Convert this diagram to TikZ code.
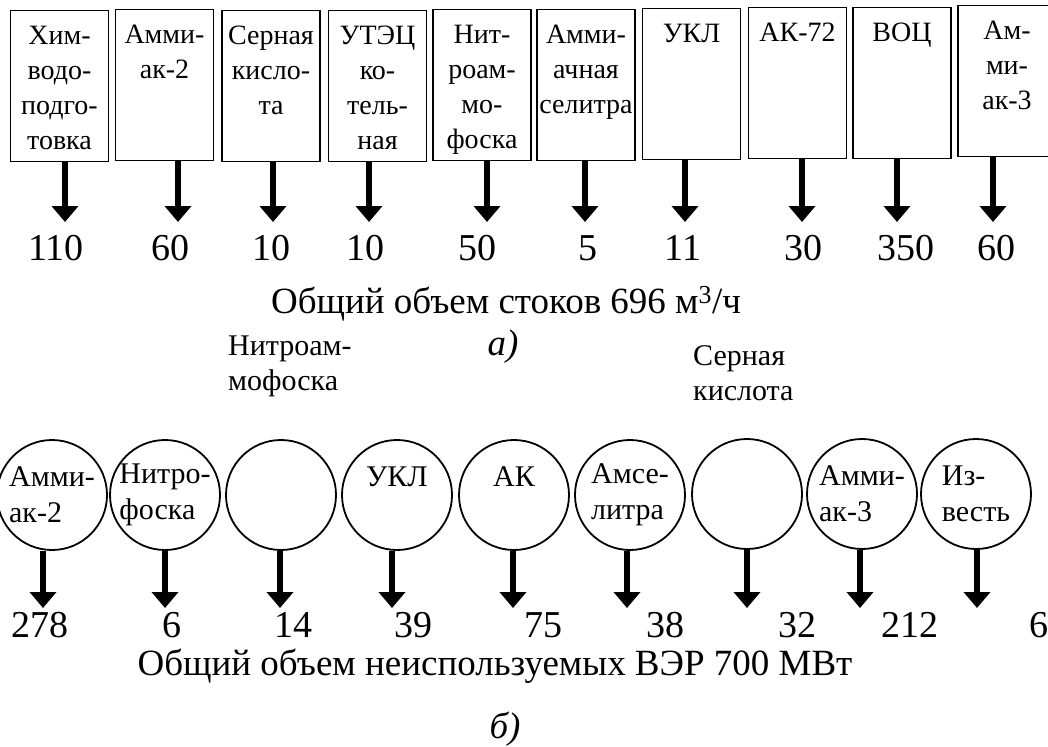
\documentclass[tikz,border=0pt]{standalone}
\usepackage{fontspec}
\setmainfont{Liberation Serif}
\usetikzlibrary{arrows.meta, positioning}

\begin{document}
\begin{tikzpicture}[
    x=1pt, y=-1pt,
    unit/.style={
        rectangle, draw, line width=1.3pt, anchor=north,
        minimum width=98pt, text width=96pt, align=center,
        inner xsep=1pt, inner ysep=0pt, text height=34pt, text depth=117pt,
        font=\fontsize{28}{35}\selectfont
    },
    site/.style={
        circle, draw, line width=1.8pt, minimum size=110pt,
        inner sep=-15pt, align=left, font=\fontsize{30}{36}\selectfont
    },
    note/.style={anchor=base west, align=left, inner sep=0pt,
        font=\fontsize{30}{35}\selectfont},
    num/.style={anchor=base, inner sep=0pt, font=\fontsize{38}{40}\selectfont},
    caption/.style={anchor=base, inner sep=0pt, font=\fontsize{37}{40}\selectfont},
    drop/.style={-{Triangle[width=26pt, length=16pt]}, line width=6pt}
]
    \useasboundingbox (0,0) rectangle (1048,746);

    % a) waste water sources
    \node[unit] (b1)  at (59.5,10)  {Хим-\\водо-\\подго-\\товка};
    \node[unit] (b2)  at (164.5,9)  {Амми-\\ак-2};
    \node[unit] (b3)  at (271,10)   {Серная\\кисло-\\та};
    \node[unit] (b4)  at (377.5,10) {УТЭЦ\\ко-\\тель-\\ная};
    \node[unit] (b5)  at (482,9)    {Нит-\\роам-\\мо-\\фоска};
    \node[unit] (b6)  at (586,9)    {Амми-\\ачная\\селитра};
    \node[unit] (b7)  at (691.5,8)  {УКЛ};
    \node[unit] (b8)  at (797.5,7)  {АК-72};
    \node[unit] (b9)  at (902,7)    {ВОЦ};
    \node[unit] (b10) at (1007,5)   {Ам-\\ми-\\ак-3};

    \node[num] (n1)  at (56,260)  {110};
    \node[num] (n2)  at (170,260) {60};
    \node[num] (n3)  at (271,260) {10};
    \node[num] (n4)  at (365,260) {10};
    \node[num] (n5)  at (477,260) {50};
    \node[num] (n6)  at (588,260) {5};
    \node[num] (n7)  at (683,260) {11};
    \node[num] (n8)  at (803,260) {30};
    \node[num] (n9)  at (906,260) {350};
    \node[num] (n10) at (996,260) {60};

    \coordinate (a1)  at (65,222);
    \coordinate (a2)  at (178,222);
    \coordinate (a3)  at (273,222);
    \coordinate (a4)  at (369,222);
    \coordinate (a5)  at (487,222);
    \coordinate (a6)  at (585,222);
    \coordinate (a7)  at (685,222);
    \coordinate (a8)  at (802,222);
    \coordinate (a9)  at (897,222);
    \coordinate (a10) at (993,222);

    \draw[drop] (b1.south -| a1) -- (a1);
    \draw[drop] (b2.south -| a2) -- (a2);
    \draw[drop] (b3.south -| a3) -- (a3);
    \draw[drop] (b4.south -| a4) -- (a4);
    \draw[drop] (b5.south -| a5) -- (a5);
    \draw[drop] (b6.south -| a6) -- (a6);
    \draw[drop] (b7.south -| a7) -- (a7);
    \draw[drop] (b8.south -| a8) -- (a8);
    \draw[drop] (b9.south -| a9) -- (a9);
    \draw[drop] (b10.south -| a10) -- (a10);

    \node[caption] (capa) at (506,313) {Общий объем стоков 696 м\textsuperscript{3}/ч};
    \node[caption] (ita)  at (503,355) {\itshape а)};

    % b) unused energy resources
    \node[site] (c1) at (52,495)  {Амми-\\ак-2};
    \node[site] (c2) at (165,495) {Нитро-\\фоска};
    \node[site] (c3) at (281,495) {};
    \node[site] (c4) at (397,495) {УКЛ\\\mbox{}};
    \node[site] (c5) at (514,495) {АК\\\mbox{}};
    \node[site] (c6) at (630,495) {Амсе-\\литра};
    \node[site] (c7) at (747,494) {};
    \node[site] (c8) at (862,494) {Амми-\\ак-3};
    \node[site] (c9) at (976,494) {Из-\\весть};

    \node[note] (l3) at (228,390) {Нитроам-\\мофоска};
    \node[note] (l7) at (693,400) {Серная\\кислота};

    \coordinate (e1) at (43,608);
    \coordinate (e2) at (165,608);
    \coordinate (e3) at (280,608);
    \coordinate (e4) at (392,608);
    \coordinate (e5) at (513,608);
    \coordinate (e6) at (627,608);
    \coordinate (e7) at (747,608);
    \coordinate (e8) at (860,608);
    \coordinate (e9) at (977,608);

    \draw[drop] (c1.south -| e1) -- (e1);
    \draw[drop] (c2.south -| e2) -- (e2);
    \draw[drop] (c3.south -| e3) -- (e3);
    \draw[drop] (c4.south -| e4) -- (e4);
    \draw[drop] (c5.south -| e5) -- (e5);
    \draw[drop] (c6.south -| e6) -- (e6);
    \draw[drop] (c7.south -| e7) -- (e7);
    \draw[drop] (c8.south -| e8) -- (e8);
    \draw[drop] (c9.south -| e9) -- (e9);

    \node[num] (m1) at (40,637)   {278};
    \node[num] (m2) at (172,637)  {6};
    \node[num] (m3) at (293,637)  {14};
    \node[num] (m4) at (413,637)  {39};
    \node[num] (m5) at (543,637)  {75};
    \node[num] (m6) at (665,637)  {38};
    \node[num] (m7) at (797,637)  {32};
    \node[num] (m8) at (910,637)  {212};
    \node[num] (m9) at (1039,637) {6};

    \node[caption] (capb) at (495,675) {Общий объем неиспользуемых ВЭР 700 МВт};
    \node[caption] (itb)  at (505,738) {\itshape б)};
\end{tikzpicture}
\end{document}
